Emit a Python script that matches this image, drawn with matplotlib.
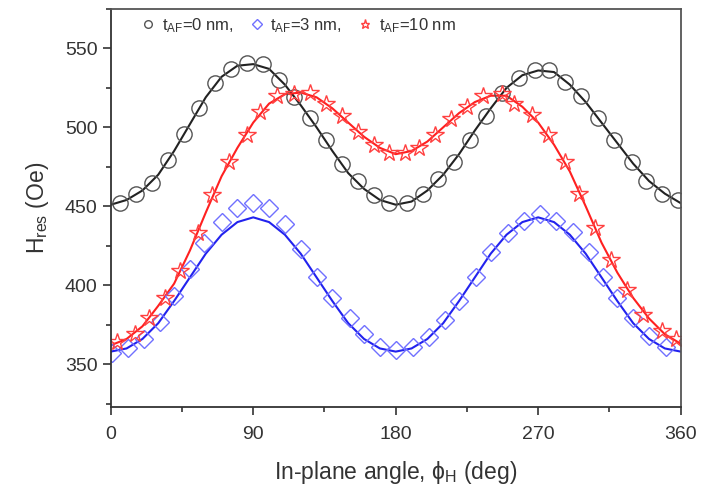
import numpy as np
import matplotlib
matplotlib.use('Agg')
import matplotlib.pyplot as plt
from matplotlib.ticker import MultipleLocator

plt.rcParams['font.family'] = ['Liberation Sans', 'DejaVu Sans']
plt.rcParams['mathtext.fontset'] = 'custom'
plt.rcParams['mathtext.rm'] = 'Liberation Sans'
plt.rcParams['mathtext.it'] = 'Liberation Sans'

# measured points, t_AF = 0 nm
ang_0 = [6, 16, 26, 36, 46, 56, 66, 76, 86, 96, 106, 116, 126, 136, 146, 156, 166, 176,
         187, 197, 207, 217, 227, 237, 247, 258, 268, 277, 287, 297, 308, 318, 329, 338, 348, 358]
h_0 = [452, 458, 465, 479, 496, 512, 528, 537, 541, 540, 530, 519, 506, 492, 477, 466, 457, 452,
       452, 458, 467, 478, 492, 507, 522, 531, 536, 536, 529, 520, 506, 492, 478, 466, 458, 454]

# t_AF = 3 nm
ang_3 = [1, 11, 21, 31, 40, 50, 59, 70, 80, 90, 100, 110, 120, 130, 140, 151, 160, 170,
         180, 191, 201, 211, 220, 231, 240, 251, 261, 271, 281, 292, 302, 311, 320, 330, 340, 351]
h_3 = [357, 360, 366, 377, 393, 410, 427, 440, 449, 452, 449, 439, 423, 405, 392, 379, 369, 361,
       359, 361, 367, 378, 390, 405, 421, 433, 441, 445, 441, 434, 421, 405, 392, 379, 368, 361]

# t_AF = 10 nm
ang_10 = [4, 15, 24, 34, 44, 55, 64, 75, 86, 94, 105, 116, 126, 136, 146, 156, 166, 176,
          186, 195, 205, 215, 225, 235, 247, 255, 266, 276, 287, 296, 306, 316, 326, 336, 348, 357]
h_10 = [364, 369, 379, 392, 409, 433, 457, 478, 495, 510, 520, 521, 522, 515, 507, 497, 489, 484,
        484, 487, 495, 505, 513, 520, 521, 515, 508, 495, 478, 458, 436, 416, 397, 381, 371, 366]

# fitted curves
ang_fit = list(range(0, 361, 10))
fit_0 = [451, 454, 460, 470, 485, 502, 519, 532, 539, 540, 537, 527, 514, 500, 485, 471, 461, 454,
         451, 453, 460, 470, 483, 498, 512, 525, 533, 536, 535, 527, 516, 503, 490, 477, 466, 458, 452]
fit_3 = [358, 360, 366, 376, 390, 405, 420, 432, 440, 443, 440, 432, 420, 405, 390, 376, 366, 360,
         358, 360, 366, 376, 390, 405, 420, 432, 440, 443, 440, 432, 420, 405, 390, 376, 366, 360, 358]
fit_10 = [362, 366, 374, 387, 401, 422, 446, 469, 487, 503, 515, 521, 522, 519, 512, 503, 494, 487,
          483, 485, 491, 500, 509, 516, 520, 520, 513, 503, 489, 472, 450, 427, 408, 392, 379, 369, 363]

fig = plt.figure(figsize=(7.01, 4.92), dpi=100)
ax = fig.add_axes([0.158, 0.173, 0.813, 0.809])

ax.plot(ang_fit, fit_0, color='#222222', lw=1.5)
ax.plot(ang_fit, fit_3, color='#2222ee', lw=1.5)
ax.plot(ang_fit, fit_10, color='#ff2020', lw=1.5)

ax.plot(ang_0, h_0, 'o', ms=11, mfc='none', mec='#555555', mew=1.0,
        label=r'$\mathregular{t_{AF}}$=0 nm,')
ax.plot(ang_3, h_3, 'D', ms=9.5, mfc='none', mec='#7070ff', mew=1.0,
        label=r'$\mathregular{t_{AF}}$=3 nm,')
ax.plot(ang_10, h_10, '*', ms=13, mfc='none', mec='#ff4040', mew=1.0,
        label=r'$\mathregular{t_{AF}}$=10 nm')

ax.set_xlim(0, 360)
ax.set_ylim(323, 575)
ax.xaxis.set_major_locator(MultipleLocator(90))
ax.xaxis.set_minor_locator(MultipleLocator(45))
ax.yaxis.set_major_locator(MultipleLocator(50))
ax.yaxis.set_minor_locator(MultipleLocator(25))
ax.set_yticks([350, 400, 450, 500, 550])
ax.tick_params(which='both', direction='out', labelsize=14, colors='#333333', width=1.2)
ax.tick_params(which='major', length=6)
ax.tick_params(which='minor', length=3.5)
ax.tick_params(axis='x', pad=8)
for s in ax.spines.values():
    s.set_linewidth(1.3)
    s.set_color('#555555')
ax.spines['left'].set_color('#333333')
ax.spines['bottom'].set_color('#333333')

ax.set_xlabel(r'In-plane angle, $\mathregular{\phi_H}$ (deg)', fontsize=16.5, color='#333333', labelpad=11)
ax.set_ylabel(r'$\mathregular{H_{res}}$ (Oe)', fontsize=16.5, color='#333333', labelpad=10)

ax.legend(loc='upper left', bbox_to_anchor=(0.025, 1.02), ncol=3, frameon=False,
          markerscale=0.5, fontsize=12, handlelength=1.0, handletextpad=0.3,
          columnspacing=0.9, labelcolor='#333333')

fig.savefig('out.png', dpi=100)
